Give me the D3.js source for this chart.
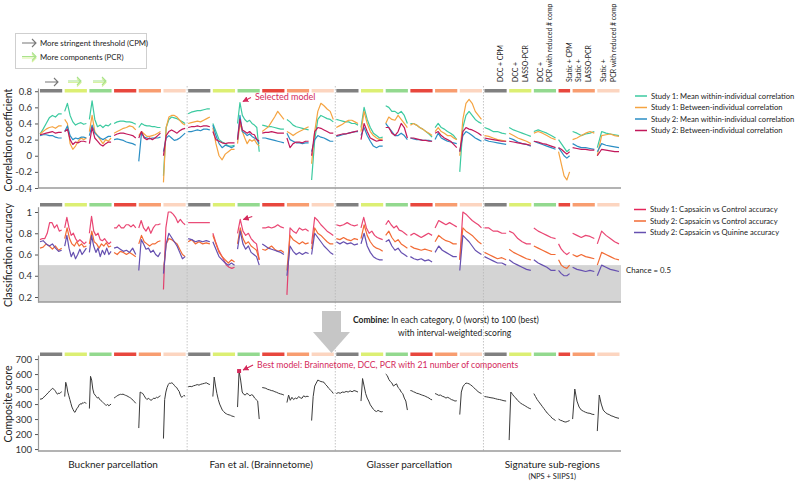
<!DOCTYPE html>
<html><head><meta charset="utf-8">
<script src="https://cdn.jsdelivr.net/npm/d3@7"></script>
<style>body{margin:0;background:#fff} svg{font-family:Lato,"Open Sans",sans-serif}</style>
</head><body><svg id="c" width="800" height="493"></svg>
<script>
// ---------------- DATA ----------------
const parcellations = ["Buckner parcellation","Fan et al. (Brainnetome)","Glasser parcellation","Signature sub-regions"];
const methods = ["DCC + CPM","DCC + LASSO-PCR","DCC + PCR with reduced # comp","Static + CPM","Static + LASSO-PCR","Static + PCR with reduced # comp"];
const methodLabelLines = [["DCC + CPM"],["DCC +","LASSO-PCR"],["DCC +","PCR with reduced # comp"],["Static + CPM"],["Static +","LASSO-PCR"],["Static +","PCR with reduced # comp"]];
const methodColors = ["#808080","#dcef73","#93d98f","#e8473d","#f89d70","#fcd5c0"];
const modelCounts = [[100,100,100,100,100,100],[100,100,100,100,100,100],[100,100,100,100,100,100],[100,100,100,57,100,100]];

const corrTicks = [-0.4,-0.2,0,0.2,0.4,0.6,0.8];
const accTicks = [0.2,0.4,0.6,0.8,1];
const compTicks = [100,200,300,400,500,600,700];

// Correlation panel series (one sub-array per segment)
const s1Within = [
 [0.27,0.33,0.40,0.47,0.50,0.48,0.52,0.52],
 [0.55,0.65,0.50,0.42,0.38,0.40,0.41,0.39,0.40],
 [0.45,0.68,0.45,0.36,0.38,0.35,0.38,0.37,0.40],
 [0.40,0.42,0.43,0.43,0.42,0.42,0.41,0.39],
 [0.35,0.40,0.38,0.37,0.37,0.36,0.36,0.35,0.35],
 [-0.25,0.35,0.45,0.48,0.47,0.46,0.44,0.42,0.40],
 [0.52,0.54,0.55,0.56,0.56,0.57,0.58,0.58],
 [0.40,0.30,0.20,0.17,0.15,0.12,0.12,0.13],
 [0.40,0.66,0.50,0.45,0.42,0.44,0.40,0.38,0.35,0.05],
 [0.38,0.37,0.36,0.36,0.35,0.34,0.33,0.33],
 [0.45,0.42,0.38,0.36,0.35,0.34,0.33,0.32],
 [-0.30,0.20,0.45,0.50,0.48,0.46,0.45,0.42],
 [0.45,0.44,0.43,0.42,0.42,0.40,0.40,0.38],
 [0.35,0.60,0.45,0.35,0.28,0.25,0.22,0.23],
 [0.62,0.60,0.55,0.55,0.52,0.55,0.50,0.40],
 [0.40,0.40,0.38,0.35,0.33,0.30,0.27,0.23],
 [0.35,0.40,0.35,0.33,0.30,0.28,0.25,0.20],
 [-0.20,0.35,0.50,0.55,0.50,0.45,0.42,0.40],
 [0.35,0.33,0.30,0.30,0.28,0.27],
 [0.35,0.32,0.30,0.28,0.26,0.24],
 [0.30,0.32,0.30,0.28,0.25,0.22],
 [0.20,0.15,0.10,0.05,0.08],
 [0.30,0.28,0.25,0.27,0.28,0.30],
 [0.10,0.30,0.28,0.27,0.26,0.25]
];
const s1Between = [
 [0.27,0.30,0.33,0.35,0.36,0.34,0.37,0.37],
 [0.45,0.40,0.15,0.08,0.12,0.18,0.22,0.20,0.22],
 [0.30,0.50,0.30,0.25,0.20,0.15,0.20,0.18,0.22],
 [0.28,0.30,0.32,0.34,0.35,0.37,0.36,0.32],
 [0.25,0.30,0.27,0.24,0.24,0.25,0.26,0.28,0.30],
 [-0.33,0.35,0.48,0.50,0.50,0.48,0.44,0.40,0.38],
 [0.40,0.41,0.42,0.43,0.42,0.44,0.46,0.48],
 [0.35,0.15,0.00,-0.05,0.02,0.05,0.08,0.08],
 [0.15,0.40,0.30,0.22,0.15,0.20,0.18,0.20,0.15,0.12],
 [0.30,0.33,0.36,0.42,0.48,0.55,0.50,0.45],
 [0.30,0.28,0.25,0.28,0.30,0.32,0.34,0.36],
 [-0.10,0.30,0.55,0.65,0.62,0.58,0.55,0.45],
 [0.35,0.37,0.39,0.42,0.44,0.44,0.42,0.40],
 [0.30,0.55,0.40,0.30,0.25,0.22,0.20,0.21],
 [0.40,0.48,0.45,0.44,0.50,0.45,0.40,0.35],
 [0.38,0.40,0.38,0.35,0.33,0.30,0.28,0.25],
 [0.30,0.35,0.30,0.28,0.25,0.25,0.22,0.20],
 [0.00,0.45,0.65,0.70,0.65,0.55,0.50,0.45],
 [0.25,0.24,0.22,0.20,0.19,0.18],
 [0.28,0.25,0.22,0.20,0.18,0.15],
 [0.28,0.30,0.28,0.25,0.22,0.20],
 [0.05,-0.10,-0.25,-0.30,-0.20],
 [0.20,0.22,0.25,0.28,0.30,0.28],
 [0.00,0.25,0.26,0.27,0.25,0.24]
];
const s2Within = [
 [0.25,0.26,0.26,0.25,0.25,0.23,0.22,0.22],
 [0.30,0.37,0.25,0.20,0.22,0.21,0.23,0.23,0.22],
 [0.25,0.38,0.28,0.25,0.22,0.20,0.22,0.24,0.24],
 [0.20,0.21,0.20,0.19,0.17,0.16,0.15,0.13],
 [-0.07,0.28,0.23,0.22,0.21,0.22,0.22,0.22,0.23],
 [0.05,0.22,0.25,0.22,0.19,0.20,0.22,0.25,0.28],
 [0.30,0.30,0.31,0.32,0.31,0.33,0.33,0.32],
 [0.38,0.25,0.15,0.10,0.13,0.12,0.10,0.12],
 [0.20,0.50,0.30,0.28,0.25,0.27,0.24,0.22,0.20,0.15],
 [0.22,0.22,0.21,0.20,0.19,0.18,0.17,0.16],
 [0.28,0.20,0.18,0.16,0.16,0.15,0.16,0.16],
 [0.05,0.20,0.25,0.23,0.22,0.20,0.18,0.18],
 [0.24,0.25,0.26,0.27,0.28,0.29,0.30,0.30],
 [0.25,0.35,0.25,0.18,0.12,0.10,0.12,0.12],
 [0.40,0.35,0.30,0.25,0.25,0.28,0.25,0.20],
 [0.22,0.21,0.20,0.20,0.19,0.19,0.19,0.18],
 [0.20,0.28,0.22,0.20,0.18,0.17,0.16,0.15],
 [0.05,0.25,0.30,0.28,0.25,0.22,0.20,0.18],
 [0.20,0.18,0.17,0.16,0.15,0.14],
 [0.22,0.20,0.17,0.15,0.14,0.12],
 [0.18,0.16,0.14,0.12,0.10,0.08],
 [0.10,0.05,0.00,-0.03,0.00],
 [0.15,0.12,0.10,0.10,0.09,0.08],
 [0.05,0.15,0.13,0.12,0.11,0.10]
];
const s2Between = [
 [0.26,0.27,0.28,0.29,0.30,0.28,0.29,0.29],
 [0.30,0.33,0.20,0.14,0.17,0.16,0.18,0.18,0.17],
 [0.15,0.35,0.22,0.18,0.14,0.12,0.15,0.17,0.17],
 [0.25,0.27,0.28,0.28,0.27,0.26,0.25,0.22],
 [0.22,0.30,0.22,0.20,0.22,0.20,0.22,0.25,0.28],
 [0.00,0.25,0.30,0.32,0.30,0.28,0.31,0.33,0.34],
 [0.35,0.36,0.36,0.37,0.36,0.37,0.37,0.36],
 [0.30,0.20,0.18,0.16,0.15,0.16,0.16,0.16],
 [0.20,0.45,0.32,0.30,0.28,0.30,0.27,0.26,0.20,0.18],
 [0.28,0.29,0.29,0.30,0.29,0.28,0.28,0.28],
 [0.22,0.10,0.15,0.17,0.17,0.16,0.18,0.18],
 [0.00,0.30,0.35,0.34,0.32,0.30,0.28,0.28],
 [0.25,0.26,0.27,0.27,0.28,0.29,0.30,0.31],
 [0.20,0.40,0.30,0.22,0.20,0.18,0.19,0.19],
 [0.35,0.35,0.28,0.25,0.30,0.40,0.35,0.22],
 [0.22,0.22,0.21,0.20,0.19,0.19,0.18,0.18],
 [0.28,0.30,0.25,0.22,0.20,0.18,0.14,0.10],
 [0.05,0.30,0.35,0.33,0.32,0.30,0.28,0.25],
 [0.22,0.21,0.20,0.19,0.18,0.18],
 [0.18,0.17,0.16,0.15,0.14,0.13],
 [0.18,0.17,0.15,0.14,0.12,0.10],
 [0.10,0.08,0.05,0.02,0.05],
 [0.10,0.09,0.08,0.08,0.07,0.07],
 [0.00,0.08,0.07,0.06,0.05,0.05]
];

// Classification accuracy series
const accS1CapCtrl = [
 [0.74,0.75,0.75,0.80,0.90,0.90,0.85,0.88,0.82,0.83],
 [0.85,0.95,0.85,0.78,0.80,0.75,0.72,0.74,0.72,0.70,0.72],
 [0.80,0.96,0.82,0.78,0.80,0.74,0.73,0.75,0.72,0.70,0.72],
 [0.85,0.85,0.88,0.85,0.85,0.88,0.88,0.86,0.88,0.85],
 [0.85,0.92,0.85,0.82,0.86,0.80,0.85,0.88,0.88,0.89],
 [0.27,0.85,1.00,1.00,0.98,0.95,0.90,0.93,0.90,0.88],
 [0.90,0.90,0.90,0.90,0.90,0.90,0.90],
 [0.80,0.72,0.65,0.60,0.55,0.50,0.48,0.47,0.48],
 [0.80,0.93,0.82,0.78,0.80,0.75,0.72,0.70,0.55],
 [0.85,0.85,0.86,0.85,0.86,0.88,0.86,0.85],
 [0.22,0.85,0.82,0.80,0.85,0.83,0.84,0.82],
 [0.70,0.95,0.92,0.88,0.85,0.82,0.80,0.78],
 [0.88,0.87,0.88,0.90,0.88,0.87,0.88],
 [0.85,0.95,0.85,0.80,0.82,0.78,0.76,0.75,0.74],
 [0.88,0.92,0.88,0.85,0.87,0.83,0.82,0.80,0.78],
 [0.78,0.80,0.78,0.76,0.78,0.80,0.78],
 [0.85,0.92,0.90,0.88,0.90,0.88,0.86],
 [0.55,1.00,0.98,0.95,0.92,0.90,0.88,0.85],
 [0.85,0.85,0.82,0.82,0.80,0.80],
 [0.82,0.80,0.75,0.72,0.70,0.70],
 [0.85,0.82,0.80,0.78,0.76,0.75],
 [0.70,0.65,0.62,0.60,0.62],
 [0.80,0.78,0.76,0.78,0.77,0.75],
 [0.70,0.82,0.78,0.75,0.72,0.70]
];
const accS2CapCtrl = [
 [0.66,0.67,0.70,0.68,0.65,0.68,0.64,0.66],
 [0.75,0.85,0.75,0.70,0.68,0.72,0.68,0.70,0.67,0.68],
 [0.70,0.82,0.72,0.70,0.66,0.70,0.68,0.71,0.67,0.68],
 [0.62,0.60,0.63,0.62,0.60,0.62,0.60,0.58],
 [0.70,0.78,0.72,0.70,0.68,0.70,0.70,0.72,0.73],
 [0.45,0.70,0.75,0.74,0.72,0.70,0.65,0.60,0.58],
 [0.72,0.74,0.70,0.72,0.70,0.71,0.70],
 [0.78,0.70,0.62,0.58,0.55,0.52,0.55,0.53],
 [0.70,0.85,0.75,0.70,0.72,0.68,0.66,0.64,0.55],
 [0.65,0.64,0.66,0.68,0.65,0.63,0.64,0.62],
 [0.45,0.78,0.74,0.72,0.70,0.72,0.70,0.71],
 [0.65,0.85,0.80,0.78,0.75,0.72,0.70,0.70],
 [0.75,0.74,0.76,0.74,0.73,0.75,0.74],
 [0.75,0.88,0.78,0.72,0.68,0.66,0.65,0.63],
 [0.78,0.82,0.76,0.72,0.74,0.70,0.68,0.66],
 [0.68,0.66,0.65,0.64,0.65,0.64,0.63],
 [0.72,0.78,0.75,0.73,0.72,0.70,0.70],
 [0.55,0.85,0.82,0.80,0.78,0.75,0.72,0.70],
 [0.62,0.60,0.58,0.56,0.57,0.55],
 [0.65,0.62,0.60,0.58,0.56,0.55],
 [0.68,0.66,0.64,0.62,0.60,0.60],
 [0.55,0.50,0.48,0.47,0.50],
 [0.60,0.58,0.60,0.58,0.57,0.56],
 [0.50,0.62,0.60,0.58,0.56,0.55]
];
const accS2CapQui = [
 [0.72,0.73,0.70,0.68,0.70,0.66,0.63,0.64],
 [0.68,0.78,0.66,0.58,0.62,0.56,0.60,0.65,0.60,0.63,0.66],
 [0.62,0.78,0.68,0.62,0.66,0.58,0.64,0.60,0.66,0.60,0.63],
 [0.66,0.67,0.65,0.63,0.64,0.62,0.66,0.60],
 [0.45,0.74,0.70,0.65,0.66,0.62,0.64,0.60,0.58,0.62],
 [0.42,0.70,0.80,0.76,0.72,0.68,0.62,0.56,0.58],
 [0.75,0.74,0.72,0.73,0.72,0.73,0.72],
 [0.72,0.65,0.58,0.55,0.52,0.50,0.52,0.50],
 [0.65,0.82,0.70,0.65,0.68,0.62,0.60,0.58,0.50],
 [0.70,0.68,0.66,0.65,0.64,0.63,0.62,0.60],
 [0.40,0.68,0.63,0.60,0.62,0.60,0.62,0.61],
 [0.60,0.80,0.76,0.72,0.68,0.65,0.62,0.60],
 [0.72,0.70,0.72,0.70,0.71,0.69,0.70],
 [0.70,0.80,0.68,0.62,0.58,0.56,0.55,0.55],
 [0.72,0.74,0.68,0.64,0.66,0.62,0.60,0.58],
 [0.58,0.56,0.55,0.56,0.54,0.55,0.53],
 [0.62,0.68,0.64,0.62,0.60,0.58,0.58],
 [0.45,0.78,0.75,0.72,0.68,0.64,0.62,0.60],
 [0.58,0.56,0.54,0.52,0.52,0.50],
 [0.55,0.52,0.50,0.48,0.46,0.45],
 [0.55,0.52,0.50,0.48,0.45,0.45],
 [0.45,0.42,0.40,0.40,0.42],
 [0.48,0.46,0.45,0.44,0.45,0.44],
 [0.40,0.50,0.48,0.46,0.45,0.44]
];

// Composite score
const compositeScore = [
 [430,436,433,441,447,452,460,466,474,480,488,494,500,505,499,492,482,470,466,474,470,478,482],
 [450,545,520,480,455,430,405,380,365,350,345,360,372,380,395,402,398,408,405,412,408,405],
 [370,585,560,500,470,460,450,440,445,430,425,418,410,402,395,392,398,388,394,400],
 [440,446,452,458,462,465,464,466,462,458,455,450,445,440,432,425,415,405],
 [240,480,475,470,455,440,430,438,432,425,430,440,436,445,442,450,455],
 [170,430,480,510,530,540,538,542,535,525,515,510,495,485,460,445,450,458,452],
 [515,518,516,522,525,530,526,532,535,538,542,535,530],
 [450,580,520,470,430,400,380,360,350,340,335,330,328,325,320,318,315],
 [380,620,560,480,465,460,472,465,455,462,458,440,430,420,300],
 [510,508,505,498,495,490,488,482,478,472,468,465,460],
 [410,460,425,445,430,440,435,450,442,438,455,448,452,450],
 [290,450,520,540,560,555,550,548,545,530,520,505,495,485,470],
 [470,476,472,480,478,484,480,488,482,490,486,480],
 [420,570,520,470,440,420,395,380,365,355,350,358,352,348,350],
 [600,590,565,550,540,520,528,535,510,500,480,470,440,420,360],
 [490,488,482,478,472,470,466,462,458,455,450,445,440,432,428],
 [470,465,458,460,452,448,440,445,438,430,426,420,422],
 [330,480,515,530,540,538,535,528,520,510,500,492,480,475,470],
 [450,448,445,442,440,436,432,430,426,422,420],
 [160,480,465,450,440,425,415,405,398,392,385,378,372,368],
 [470,450,430,415,400,385,370,355,340,330,318,305,298,290],
 [300,292,288,282,280,285,290],
 [300,500,420,380,360,352,345,340,338,332,330],
 [220,460,400,360,345,335,330,322,318,312,308,305]
];
const bestModel = {segment: 8, index: 1};

// ---------------- DRAWING ----------------
const svg = d3.select("#c");
const X0 = 39, X1 = 621;
const flatCounts = modelCounts.flat();
const totalModels = d3.sum(flatCounts);
const x = d3.scaleLinear().domain([0, totalModels]).range([X0, X1]);
const cum = [0];
flatCounts.forEach(c => cum.push(cum[cum.length-1] + c));
const segments = flatCounts.map((c,k) => ({start: cum[k], end: cum[k+1], method: k % 6, group: Math.floor(k/6)}));
const groupBounds = modelCounts.map((g,i) => cum[i*6]);

const yCorr = d3.scaleLinear().domain([-0.4, 0.84]).range([188, 88]);
const yAcc = d3.scaleLinear().domain([0.153, 1.05]).range([302, 206.7]);
const yComp = d3.scaleLinear().domain([87, 727]).range([451, 355]);

const fmt = d => String(d).replace("\u2212", "-");
const axisColor = "#9a9a9a";

function styleAxis(g) {
  g.selectAll(".domain").attr("stroke", axisColor).attr("stroke-width", 1.2);
  g.selectAll(".tick line").attr("stroke", "#555");
  g.selectAll(".tick text").attr("fill", "#333").attr("font-size", 9.5).attr("font-family", "Lato, sans-serif");
}

function panel(yScale, ticks, yBottom) {
  const gAx = svg.append("g").attr("transform", `translate(${X0-1},0)`)
    .call(d3.axisLeft(yScale).tickValues(ticks).tickFormat(fmt).tickSize(3).tickSizeOuter(0).tickPadding(3));
  styleAxis(gAx);
  svg.append("line").attr("x1", X0-1).attr("x2", X1).attr("y1", yBottom).attr("y2", yBottom)
    .attr("stroke", axisColor).attr("stroke-width", 1.5);
}

// gray chance area
svg.append("rect").attr("x", X0).attr("width", X1-X0).attr("y", yAcc(0.5)).attr("height", yAcc(0.153)-yAcc(0.5)).attr("fill", "#d4d4d4");

// method bars
function bars(yTop) {
  svg.append("g").selectAll("rect").data(segments).join("rect")
    .attr("x", d => x(d.start)+1).attr("width", d => x(d.end)-x(d.start)-2.5)
    .attr("y", yTop).attr("height", 3.5).attr("fill", d => methodColors[d.method]);
}
bars(89); bars(203); bars(352.5);

// dividers
svg.append("g").selectAll("line").data(groupBounds.slice(1)).join("line")
  .attr("x1", d => x(d)).attr("x2", d => x(d)).attr("y1", 86).attr("y2", 451)
  .attr("stroke", "#b8b8b8").attr("stroke-width", 0.8).attr("stroke-dasharray", "1.5,1.5");

panel(yCorr, corrTicks, 188);
panel(yAcc, accTicks, 302);
panel(yComp, compTicks, 451);

function segX(k, n) {
  const s = segments[k];
  return d3.scaleLinear().domain([0, n-1]).range([x(s.start)+1, x(s.end)-2]);
}
function drawSeries(data, yScale, color, w, op) {
  const g = svg.append("g");
  data.forEach((vals, k) => {
    const xi = segX(k, vals.length);
    g.append("path").datum(vals)
      .attr("d", d3.line().x((d,i) => xi(i)).y(d => yScale(d)))
      .attr("fill", "none").attr("stroke", color).attr("stroke-width", w).attr("stroke-opacity", op || 1)
      .attr("stroke-linejoin", "round");
  });
}
const cTeal = "#3ccaa0", cOrange = "#f5a442", cBlue = "#2b8ec4", cCrimson = "#c2185b";
const cRed = "#e5265a", cOrRed = "#f26b35", cPurple = "#6650b0";
drawSeries(s1Within, yCorr, cTeal, 1.2);
drawSeries(s1Between, yCorr, cOrange, 1.2);
drawSeries(s2Within, yCorr, cBlue, 1.2);
drawSeries(s2Between, yCorr, cCrimson, 1.2);

drawSeries(accS1CapCtrl, yAcc, cRed, 1.2, 0.85);
drawSeries(accS2CapCtrl, yAcc, cOrRed, 1.2);
drawSeries(accS2CapQui, yAcc, cPurple, 1.2);

drawSeries(compositeScore, yComp, "#3a3a3a", 1);

// y labels
function yLabel(text, cy) {
  svg.append("text").attr("transform", `translate(12,${cy}) rotate(-90)`).attr("text-anchor", "middle")
    .attr("font-size", 10.5).attr("fill", "#222").text(text);
}
yLabel("Correlation coefficient", 140);
yLabel("Classification accuracy", 255);
yLabel("Composite score", 404);

// x group labels
parcellations.forEach((p, i) => {
  const cx = (x(cum[i*6]) + x(cum[i*6+6])) / 2;
  svg.append("text").attr("x", cx).attr("y", 468).attr("text-anchor", "middle").attr("font-size", 10).attr("fill", "#222").text(p);
});
{
  const cx = (x(cum[18]) + x(cum[24])) / 2;
  svg.append("text").attr("x", cx).attr("y", 479).attr("text-anchor", "middle").attr("font-size", 7.5).attr("fill", "#222").text("(NPS + SIIPS1)");
}

// rotated method labels (last group)
for (let m = 0; m < 6; m++) {
  const s = segments[18+m];
  const cx = (x(s.start) + x(s.end)) / 2;
  const lines = methodLabelLines[m];
  lines.forEach((ln, j) => {
    const off = (j - (lines.length-1)) * 9.5 + 7;
    svg.append("text").attr("transform", `translate(${cx+off},82) rotate(-90)`)
      .attr("font-size", 6.9).attr("fill", "#222").text(ln);
  });
}

// right legends
function legend(items, x0, y0, dy) {
  items.forEach((it, i) => {
    const yy = y0 + i*dy;
    svg.append("line").attr("x1", x0).attr("x2", x0+12).attr("y1", yy).attr("y2", yy).attr("stroke", it[1]).attr("stroke-width", 1.5);
    svg.append("text").attr("x", x0+16).attr("y", yy+2.8).attr("font-size", 7.6).attr("fill", "#222").text(it[0]);
  });
}
legend([["Study 1: Mean within-individual correlation", cTeal],["Study 1: Between-individual correlation", cOrange],
        ["Study 2: Mean within-individual correlation", cBlue],["Study 2: Between-individual correlation", cCrimson]], 635, 96, 11.5);
legend([["Study 1: Capsaicin vs Control accuracy", cRed],["Study 2: Capsaicin vs Control accuracy", cOrRed],
        ["Study 2: Capsaicin vs Quinine accuracy", cPurple]], 634, 209.5, 11.5);
svg.append("text").attr("x", 626).attr("y", 273).attr("font-size", 7.8).attr("fill", "#222").text("Chance = 0.5");

// top-left arrow legend
svg.append("rect").attr("x", 15.5).attr("y", 33.5).attr("width", 131).attr("height", 35).attr("fill", "none").attr("stroke", "#cfcfcf");
function arrow(x1, y, len, color, lighter) {
  const g = svg.append("g");
  if (lighter) {
    g.append("path").attr("d", `M${x1},${y+1.5}H${x1+len}M${x1+len-4},${y-2.5}L${x1+len},${y+1.5}L${x1+len-4},${y+5.5}`)
      .attr("fill","none").attr("stroke", lighter).attr("stroke-width", 1.2);
  }
  g.append("path").attr("d", `M${x1},${y}H${x1+len}M${x1+len-4},${y-4}L${x1+len},${y}L${x1+len-4},${y+4}`)
    .attr("fill","none").attr("stroke", color).attr("stroke-width", 1.1);
}
arrow(22, 43, 14, "#777");
svg.append("text").attr("x", 40).attr("y", 46).attr("font-size", 7.8).attr("fill", "#222").text("More stringent threshold (CPM)");
arrow(22, 56.5, 14, "#a8e28c", "#d8f2a0");
svg.append("text").attr("x", 40).attr("y", 60).attr("font-size", 7.8).attr("fill", "#222").text("More components (PCR)");
arrow(45, 82, 13, "#777");
arrow(68, 81, 13, "#a8e28c", "#d8f2a0");
arrow(93, 81, 13, "#a8e28c", "#d8f2a0");

// annotations
const annColor = "#d42a5b";
svg.append("defs").append("marker").attr("id", "ah").attr("viewBox", "0 0 10 10").attr("refX", 9).attr("refY", 5)
  .attr("markerWidth", 5).attr("markerHeight", 5).attr("orient", "auto")
  .append("path").attr("d", "M0,0L10,5L0,10z").attr("fill", annColor);
{
  const bi = bestModel.index, bk = bestModel.segment;
  const xi = segX(bk, s1Within[bk].length);
  const px = xi(bi);
  const py1 = yCorr(s1Within[bk][bi]);
  svg.append("line").attr("x1", px+11).attr("y1", py1-5).attr("x2", px+3).attr("y2", py1-1)
    .attr("stroke", annColor).attr("stroke-width", 1.2).attr("marker-end", "url(#ah)");
  svg.append("text").attr("x", px+15).attr("y", py1-3).attr("font-size", 9).attr("fill", annColor).text("Selected model");
  const xa = segX(bk, accS1CapCtrl[bk].length);
  const py2 = yAcc(accS1CapCtrl[bk][bi]);
  svg.append("line").attr("x1", xa(bi)+12).attr("y1", py2-3).attr("x2", xa(bi)+3).attr("y2", py2)
    .attr("stroke", annColor).attr("stroke-width", 1.2).attr("marker-end", "url(#ah)");
  const xc = segX(bk, compositeScore[bk].length);
  const cxp = xc(bi), cyp = yComp(compositeScore[bk][bi]);
  svg.append("rect").attr("x", cxp-2).attr("y", cyp-2).attr("width", 4).attr("height", 4).attr("fill", annColor);
  svg.append("line").attr("x1", cxp+14).attr("y1", cyp-6).attr("x2", cxp+4).attr("y2", cyp-1)
    .attr("stroke", annColor).attr("stroke-width", 1.2).attr("marker-end", "url(#ah)");
  svg.append("text").attr("x", cxp+18).attr("y", cyp-3).attr("font-size", 8.7).attr("fill", annColor)
    .text("Best model: Brainnetome, DCC, PCR with 21 number of components");
}

// combine arrow
svg.append("path").attr("d", "M322,311H341V332H350L331.5,353L313,332H322Z").attr("fill", "#c6c6c6");
const ct = svg.append("text").attr("x", 353).attr("y", 323).attr("font-size", 8.5).attr("fill", "#222");
ct.append("tspan").attr("font-weight", "bold").text("Combine:");
ct.append("tspan").text("  In each category, 0 (worst) to 100 (best)");
svg.append("text").attr("x", 398).attr("y", 336).attr("font-size", 8.5).attr("fill", "#222").text("with interval-weighted scoring");
</script></body></html>
